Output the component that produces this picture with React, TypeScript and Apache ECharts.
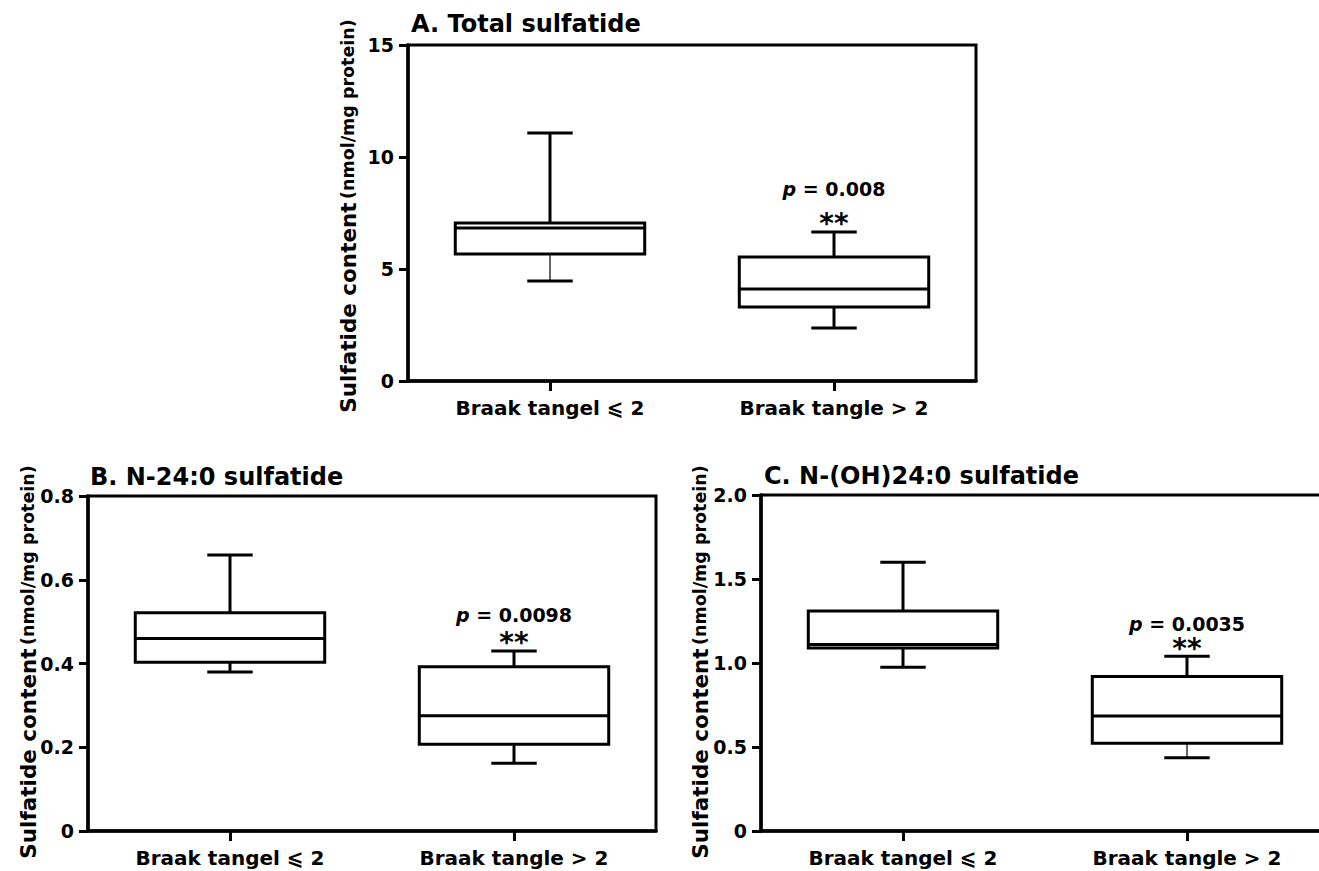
import React, { useEffect, useRef } from 'react';
import * as echarts from 'echarts';

const categories = ['Braak tangel ⩽ 2', 'Braak tangle > 2'];

// each box: [whisker low, Q1, median, Q3, whisker high]
const totalBoxes = [
  [4.46, 5.67, 6.83, 7.05, 11.07],
  [2.37, 3.3, 4.11, 5.54, 6.65],
];
const n24Boxes = [
  [0.38, 0.403, 0.46, 0.521, 0.659],
  [0.162, 0.207, 0.275, 0.392, 0.43],
];
const oh24Boxes = [
  [0.974, 1.09, 1.11, 1.31, 1.6],
  [0.436, 0.522, 0.685, 0.92, 1.04],
];

const panelTitles = ['A. Total sulfatide', 'B. N-24:0 sulfatide', 'C. N-(OH)24:0 sulfatide'];
const pValues = ['0.008', '0.0098', '0.0035'];
const pLabelLevel = [8.55, 0.516, 1.235];
const starLevel = [7.05, 0.449, 1.086];
const yMaxes = [15, 0.8, 2.0];
const yIntervals = [5, 0.2, 0.5];
const yTitleMain = 'Sulfatide content';
const yTitleUnit = '(nmol/mg protein)';

const FONT = 'DejaVu Sans';

// layout (pixels)
const grids = [
  { left: 408, top: 45, width: 568, height: 336 },
  { left: 88, top: 496, width: 568, height: 335 },
  { left: 761, top: 495, width: 568, height: 336 },
];
const titlePos = [
  [411, 24],
  [90, 477],
  [764, 476],
];
const yTitlePos = [
  [348, 216],
  [28, 662],
  [700, 662],
];
const lowerWhiskerWidth = [
  [1.2, 3],
  [3, 3],
  [3, 1.2],
];

export default function App() {
  const ref = useRef<HTMLDivElement>(null);
  useEffect(() => {
    if (!ref.current) return;
    const chart = echarts.init(ref.current, null, { renderer: 'svg' });
    const allBoxes = [totalBoxes, n24Boxes, oh24Boxes];

    const makeRender = (panel: number) => (params: any, api: any) => {
      const x = api.value(0);
      const lo = api.coord([x, api.value(1)]);
      const q1 = api.coord([x, api.value(2)]);
      const md = api.coord([x, api.value(3)]);
      const q3 = api.coord([x, api.value(4)]);
      const hi = api.coord([x, api.value(5)]);
      const band = api.size([1, 0])[0];
      const bw = band * 0.667;
      const cw = band * 0.16;
      const cx = lo[0];
      const st = { stroke: '#000', lineWidth: 3, fill: null };
      const lw = lowerWhiskerWidth[panel][params.dataIndex];
      return {
        type: 'group',
        children: [
          { type: 'line', shape: { x1: cx, y1: q3[1], x2: cx, y2: hi[1] }, style: st },
          { type: 'line', shape: { x1: cx - cw / 2, y1: hi[1], x2: cx + cw / 2, y2: hi[1] }, style: st },
          { type: 'line', shape: { x1: cx, y1: q1[1], x2: cx, y2: lo[1] }, style: { ...st, lineWidth: lw } },
          { type: 'line', shape: { x1: cx - cw / 2, y1: lo[1], x2: cx + cw / 2, y2: lo[1] }, style: st },
          {
            type: 'rect',
            shape: { x: cx - bw / 2, y: q3[1], width: bw, height: q1[1] - q3[1] },
            style: { stroke: '#000', lineWidth: 3, fill: '#fff' },
          },
          { type: 'line', shape: { x1: cx - bw / 2, y1: md[1], x2: cx + bw / 2, y2: md[1] }, style: st },
        ],
      };
    };

    const makeAnnot = (panel: number) => (params: any, api: any) => {
      const pt = api.coord([api.value(0), api.value(1)]);
      const isP = params.dataIndex === 0;
      return {
        type: 'text',
        x: pt[0],
        y: pt[1],
        style: isP
          ? {
              text: `{i|p}{n| = ${pValues[panel]}}`,
              align: 'center',
              verticalAlign: 'middle',
              fill: '#000',
              rich: {
                i: { fontFamily: FONT, fontWeight: 'bold', fontStyle: 'italic', fontSize: 19, fill: '#000' },
                n: { fontFamily: FONT, fontWeight: 'bold', fontSize: 19, fill: '#000' },
              },
            }
          : {
              text: '**',
              font: `bold 28px "${FONT}"`,
              align: 'center',
              verticalAlign: 'middle',
              fill: '#000',
            },
      };
    };

    const fmt = (panel: number) => (v: number) => {
      if (v === 0) return '0';
      return panel === 0 ? String(v) : v.toFixed(1);
    };

    const option: any = {
      animation: false,
      textStyle: { fontFamily: FONT, color: '#000' },
      grid: grids.map((g) => ({
        ...g,
        show: true,
        borderColor: '#000',
        borderWidth: 3,
        backgroundColor: 'transparent',
        containLabel: false,
        outerBoundsMode: 'none',
      })),
      xAxis: grids.map((_, i) => ({
        type: 'category',
        gridIndex: i,
        data: categories,
        boundaryGap: true,
        axisLine: { show: true, lineStyle: { color: '#000', width: 3.5 } },
        axisTick: { show: true, alignWithLabel: true, length: 10, lineStyle: { color: '#000', width: 3 } },
        axisLabel: { fontFamily: FONT, fontWeight: 'bold', fontSize: 20, color: '#000', margin: 17 },
        splitLine: { show: false },
      })),
      yAxis: grids.map((_, i) => ({
        type: 'value',
        gridIndex: i,
        min: 0,
        max: yMaxes[i],
        interval: yIntervals[i],
        axisLine: { show: true, lineStyle: { color: '#000', width: 3.5 } },
        axisTick: { show: true, length: 9, lineStyle: { color: '#000', width: 3 } },
        axisLabel: { fontFamily: FONT, fontWeight: 'bold', fontSize: 19, color: '#000', margin: 14, formatter: fmt(i) },
        splitLine: { show: false },
      })),
      series: [
        ...allBoxes.map((boxes, i) => ({
          type: 'custom',
          xAxisIndex: i,
          yAxisIndex: i,
          renderItem: makeRender(i),
          encode: { x: 0, y: [1, 2, 3, 4, 5] },
          data: boxes.map((b, k) => [k, ...b]),
          z: 3,
        })),
        ...allBoxes.map((_, i) => ({
          type: 'custom',
          xAxisIndex: i,
          yAxisIndex: i,
          renderItem: makeAnnot(i),
          encode: { x: 0, y: 1 },
          data: [
            [1, pLabelLevel[i]],
            [1, starLevel[i]],
          ],
          z: 5,
        })),
      ],
      graphic: [
        ...panelTitles.map((t, i) => ({
          type: 'text',
          x: titlePos[i][0],
          y: titlePos[i][1],
          style: {
            text: t,
            font: `bold 24px "${FONT}"`,
            fill: '#000',
            align: 'left',
            verticalAlign: 'middle',
          },
        })),
        ...yTitlePos.map((p) => ({
          type: 'text',
          x: p[0],
          y: p[1],
          rotation: Math.PI / 2,
          style: {
            text: `{a|${yTitleMain}} {b|${yTitleUnit}}`,
            fill: '#000',
            align: 'center',
            verticalAlign: 'middle',
            rich: {
              a: { fontFamily: FONT, fontWeight: 'bold', fontSize: 21.5, fill: '#000' },
              b: { fontFamily: FONT, fontWeight: 'bold', fontSize: 17.5, fill: '#000' },
            },
          },
        })),
      ],
    };
    chart.setOption(option);
    return () => chart.dispose();
  }, []);
  return (
    <div
      ref={ref}
      style={{ position: 'fixed', left: 0, top: 0, width: 1319, height: 871, background: '#fff' }}
    />
  );
}
